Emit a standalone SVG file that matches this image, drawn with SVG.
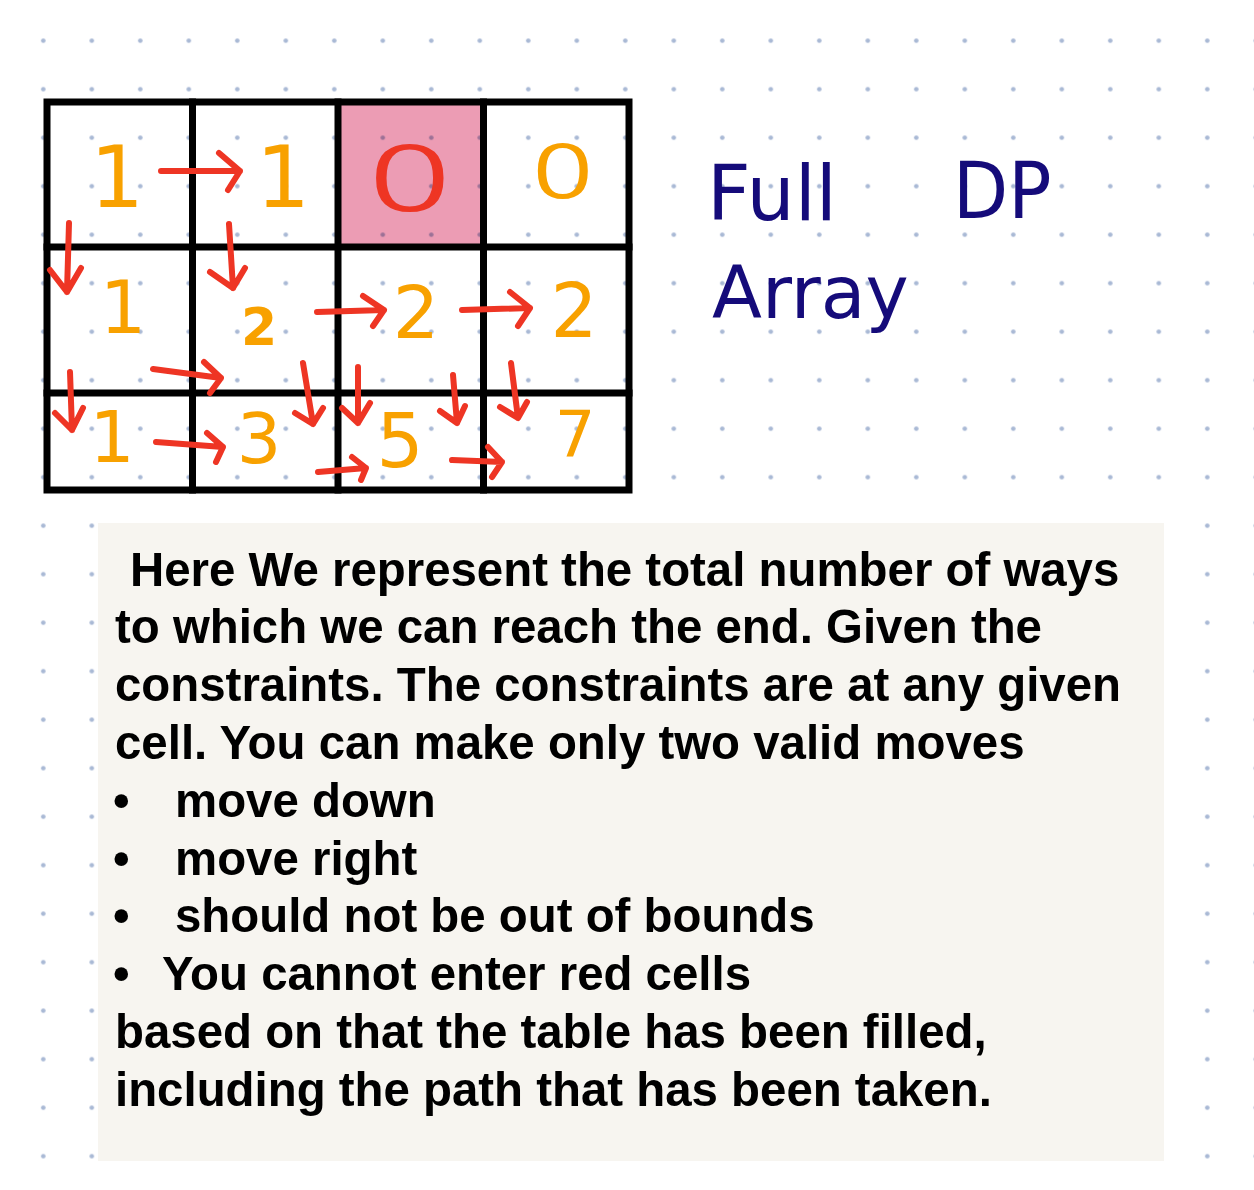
<svg xmlns="http://www.w3.org/2000/svg" width="1254" height="1190" viewBox="0 0 1254 1190">
<defs>
<pattern id="dots" x="19.05" y="16.45" width="48.5" height="48.5" patternUnits="userSpaceOnUse">
<circle cx="24.25" cy="24.25" r="2.3" fill="#A9B9D5"/>
</pattern>
<style>
.dig{font-family:"DejaVu Sans",sans-serif;fill:#F8A100;text-anchor:middle}
.zero{font-family:"DejaVu Sans",sans-serif;font-weight:200;text-anchor:middle;stroke-width:2.2}
.hand{font-family:"DejaVu Sans",sans-serif;fill:#150B7A}
.grid{stroke:#000;stroke-width:7;fill:none;stroke-linecap:square}
.arr{stroke:#EE3524;stroke-width:6;fill:none;stroke-linecap:round;stroke-linejoin:round}
.txt{font-family:"Liberation Sans",Arial,sans-serif;font-weight:bold;font-size:47.4px;fill:#000}
</style>
</defs>
<rect width="1254" height="1190" fill="#FFFFFF"/>
<rect width="1254" height="1190" fill="url(#dots)"/>

<g id="cells">
<g id="cell-0-0"><text class="dig" x="117" y="207" font-size="85">1</text></g>
<g id="cell-0-1"><text class="dig" x="283" y="207" font-size="85">1</text></g>
<g id="cell-0-2"><rect x="341" y="105" width="139" height="139" fill="#EC9CB4" style="mix-blend-mode:multiply"/><text class="zero" x="410" y="210" font-size="88" fill="#EE3524" stroke="#EE3524" transform="translate(410 0) scale(1.6 1) translate(-410 0)">0</text></g>
<g id="cell-0-3"><text class="zero" x="563" y="197" font-size="71" fill="#F8A100" stroke="#F8A100" transform="translate(563 0) scale(1.45 1) translate(-563 0)">0</text></g>
<g id="cell-1-0"><text class="dig" x="123" y="333" font-size="73">1</text></g>
<g id="cell-1-1"><text class="dig" x="259" y="345" font-size="52" font-weight="bold">2</text></g>
<g id="cell-1-2"><text class="dig" x="416" y="338" font-size="73">2</text></g>
<g id="cell-1-3"><text class="dig" x="574" y="337" font-size="74">2</text></g>
<g id="cell-2-0"><text class="dig" x="112" y="462" font-size="71">1</text></g>
<g id="cell-2-1"><text class="dig" x="259" y="463" font-size="70">3</text></g>
<g id="cell-2-2"><text class="dig" x="400" y="467" font-size="74">5</text></g>
<g id="cell-2-3"><text class="dig" x="575" y="457" font-size="64">7</text></g>
</g>

<g id="table-grid" class="grid">
<rect x="47" y="102" width="582" height="388"/>
<line x1="192.5" y1="102" x2="192.5" y2="490"/>
<line x1="338" y1="102" x2="338" y2="490"/>
<line x1="483.5" y1="102" x2="483.5" y2="490"/>
<line x1="47" y1="247" x2="629" y2="247"/>
<line x1="47" y1="393" x2="629" y2="393"/>
</g>

<g id="connectors" class="arr">
<path d="M161 171 L240 171 M219 153 L240 171 L228 190"/>
<path d="M69 223 L67 292 M50 270 L67 292 L81 268"/>
<path d="M229 224 L233 288 M210 272 L233 288 L245 268"/>
<path d="M153 369 L221 378 M204 362 L221 378 L210 393"/>
<path d="M317 312 L384 310 M363 296 L384 310 L373 326"/>
<path d="M462 310 L530 308 M510 292 L530 308 L518 326"/>
<path d="M70 372 L72 430 M55 413 L72 430 L83 408"/>
<path d="M303 363 L313 424 M295 413 L313 424 L323 408"/>
<path d="M358 367 L358 423 M342 408 L358 423 L370 403"/>
<path d="M453 375 L457 423 M440 411 L457 423 L465 406"/>
<path d="M511 363 L518 418 M500 407 L518 418 L527 402"/>
<path d="M156 442 L223 447 M207 433 L223 447 L216 462"/>
<path d="M318 472 L366 468 M352 457 L366 468 L361 480"/>
<path d="M452 460 L502 462 M488 447 L502 462 L492 477"/>
</g>

<g id="title">
<text class="hand" x="707" y="220" font-size="76">Full</text>
<text class="hand" x="953" y="218" font-size="78" transform="translate(953 0) scale(0.92 1) translate(-953 0)">DP</text>
<text class="hand" x="712" y="318" font-size="73">Array</text>
</g>

<g id="description">
<rect x="98" y="523" width="1066" height="638" fill="#F7F5F0"/>
<text class="txt" x="130" y="586">Here We represent the total number of ways</text>
<text class="txt" x="115" y="643">to which we can reach the end. Given the</text>
<text class="txt" x="115" y="701">constraints. The constraints are at any given</text>
<text class="txt" x="115" y="759">cell. You can make only two valid moves</text>
<text class="txt" x="113" y="817">•</text><text class="txt" x="175" y="817">move down</text>
<text class="txt" x="113" y="875">•</text><text class="txt" x="175" y="875">move right</text>
<text class="txt" x="113" y="932">•</text><text class="txt" x="175" y="932">should not be out of bounds</text>
<text class="txt" x="113" y="990">•</text><text class="txt" x="162" y="990">You cannot enter red cells</text>
<text class="txt" x="115" y="1048">based on that the table has been filled,</text>
<text class="txt" x="115" y="1106">including the path that has been taken.</text>
</g>
</svg>
